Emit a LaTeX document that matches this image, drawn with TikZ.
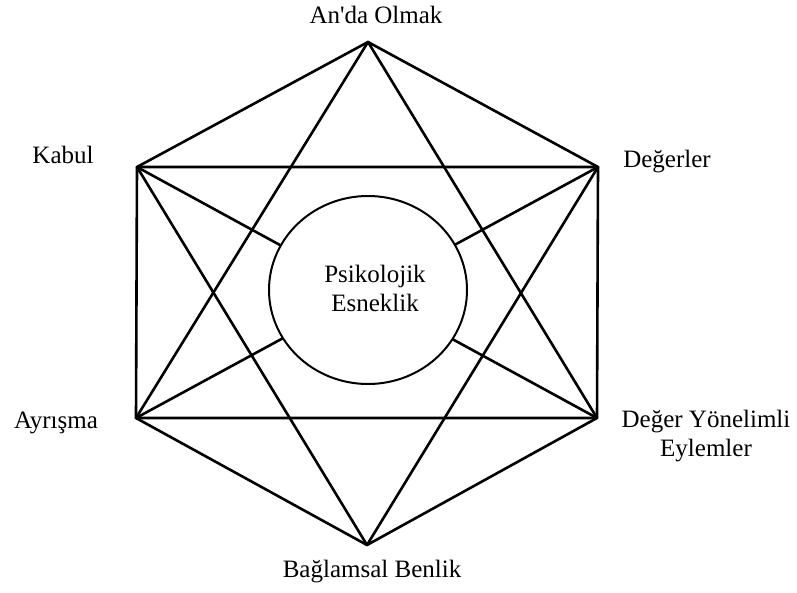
\documentclass[tikz,border=0pt]{standalone}
\usepackage{fontspec}
\setmainfont{Liberation Serif}[Ligatures=TeXOff]
\usetikzlibrary{shapes.geometric}
\tikzset{
  facet/.style={font=\fontsize{25}{29}\selectfont, anchor=base, inner sep=0pt},
  link/.style={line width=2.6pt, line cap=round, line join=round},
}

\begin{document}
\begin{tikzpicture}[x=1pt, y=-1pt]
\useasboundingbox (0,0) rectangle (797,592);

% Hexagon corners
\coordinate (top) at (368,42);
\coordinate (ur) at (598,167);
\coordinate (lr) at (597,418);
\coordinate (bot) at (367,545);
\coordinate (ll) at (136,418);
\coordinate (ul) at (137,167);

% Outline
\draw[link] (top) -- (ur) -- (lr) -- (bot) -- (ll) -- (ul) -- cycle;

% The two triangles of the star
\draw[link] (top) -- (lr) -- (ll) -- cycle;
\draw[link] (bot) -- (ul) -- (ur) -- cycle;

% Diagonals through the middle
\draw[link] (ul) -- (lr);
\draw[link] (ur) -- (ll);

% Centre
\node[ellipse, draw, line width=2pt, fill=white, inner sep=0pt,
      minimum width=198pt, minimum height=188pt] (core) at (368,290) {};
\node[facet, align=center, anchor=center] (flex) at (375,288) {Psikolojik\\Esneklik};

% Corner names
\node[facet] (now) at (376,23) {An'da Olmak};
\node[facet] (accept) at (63,163) {Kabul};
\node[facet] (values) at (667,167) {Değerler};
\node[facet] (defuse) at (56,428) {Ayrışma};
\node[facet, align=center, anchor=center] (action) at (706,436) {Değer Yönelimli\\Eylemler};
\node[facet] (self) at (372,577) {Bağlamsal Benlik};
\end{tikzpicture}
\end{document}
